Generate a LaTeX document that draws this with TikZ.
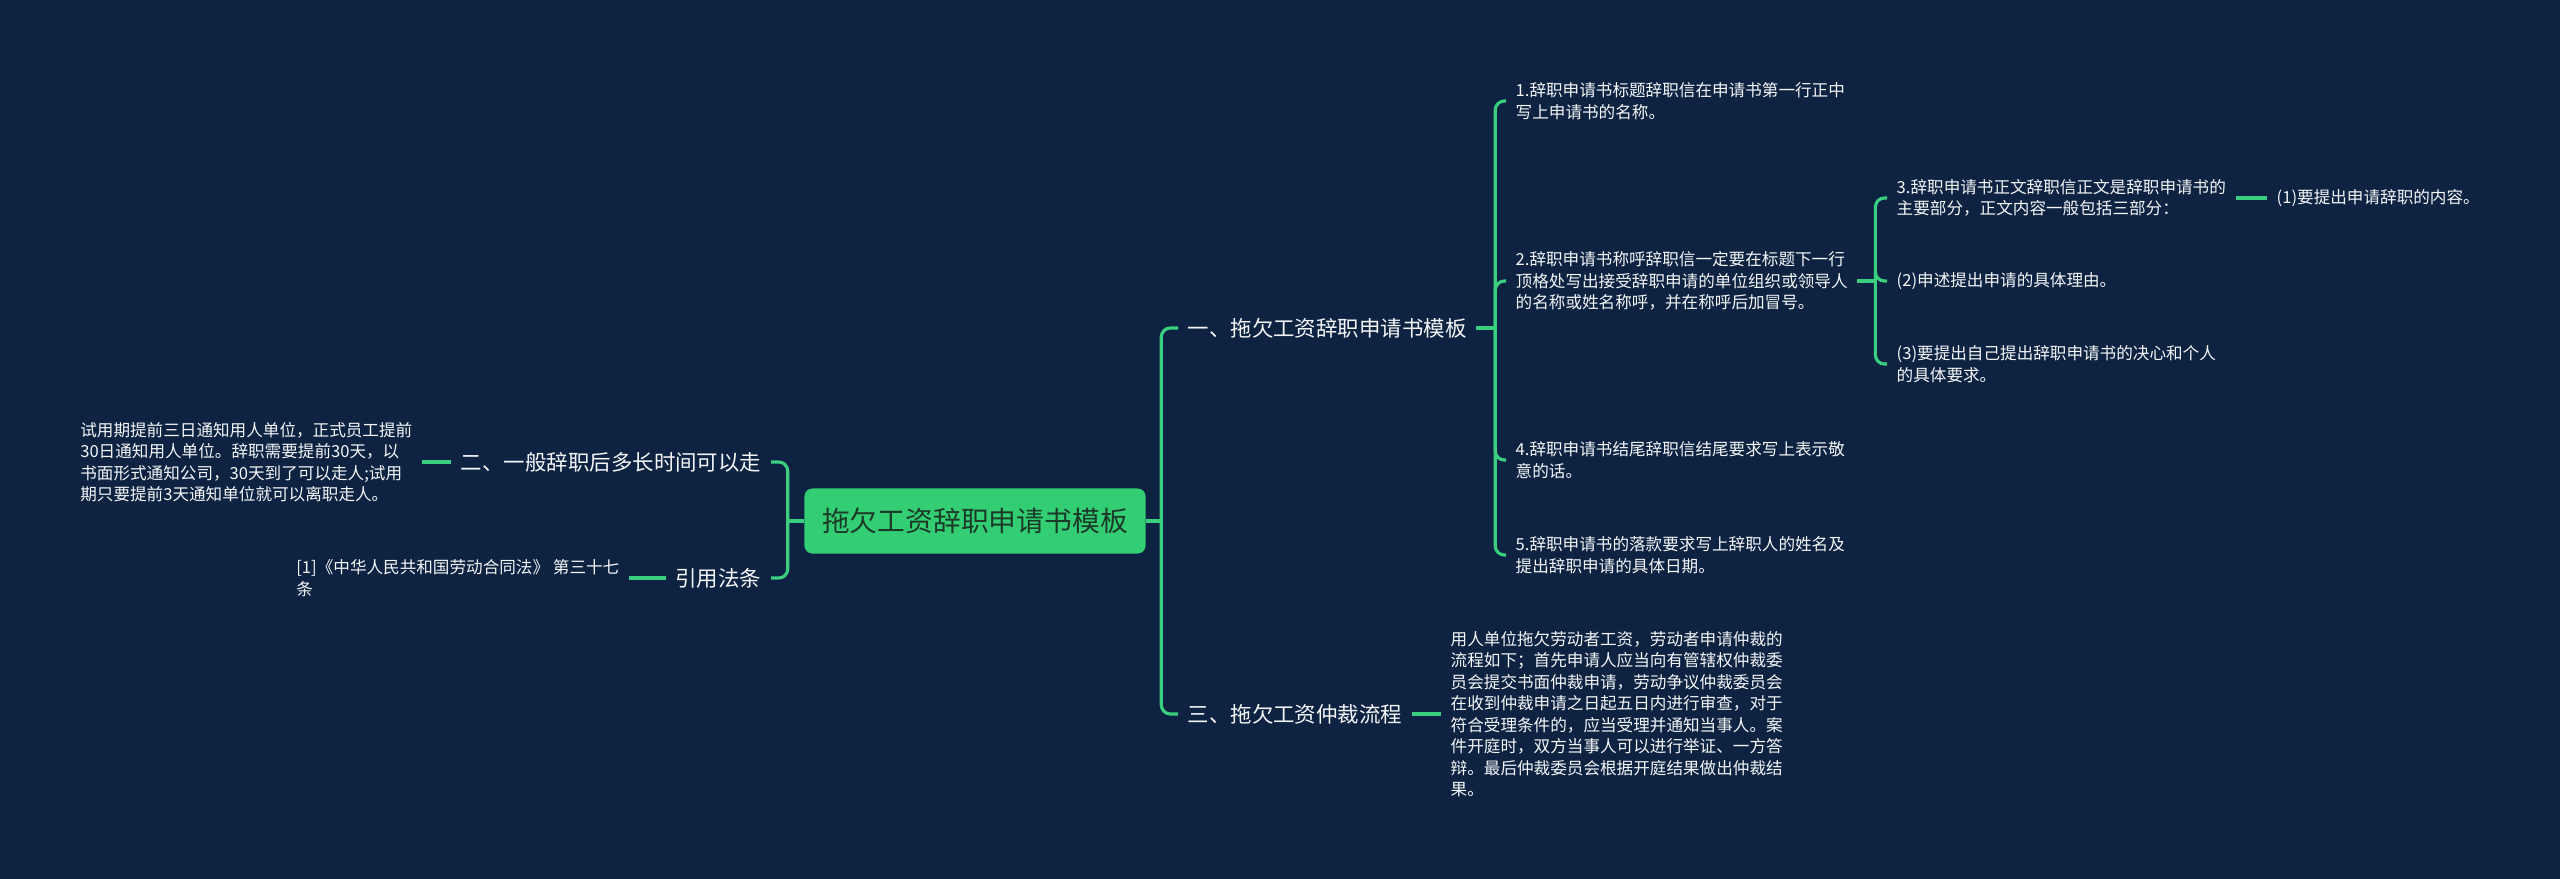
\documentclass[tikz,border=0pt]{standalone}
\usepackage{fontspec}
\usepackage{xcolor}
\usepackage{tikz}
\usetikzlibrary{positioning}
\newfontfamily\cjk{Noto Sans CJK SC}
\definecolor{pagebg}{HTML}{0E2341}
\definecolor{mapgreen}{HTML}{3ACF7E}
\definecolor{rootfill}{HTML}{33CE74}
\definecolor{roottext}{HTML}{1B3A28}
\definecolor{textmain}{HTML}{F4F6F8}
\tikzstyle{root} = [fill=rootfill, rounded corners=0.08cm, minimum width=3.41cm, minimum height=0.65cm, text=roottext, font=\cjk\fontsize{7.9pt}{9.5pt}\selectfont]
\tikzstyle{topic} = [inner xsep=0.09cm, inner ysep=0.03cm, text=textmain, font=\cjk\fontsize{6.1pt}{7.5pt}\selectfont]
\tikzstyle{leaf} = [inner xsep=0.09cm, inner ysep=0.03cm, align=left, text=textmain, font=\cjk\fontsize{4.72pt}{6.12pt}\selectfont]
\tikzstyle{link} = [line width=0.9pt, color=mapgreen, rounded corners=0.09cm]

\begin{document}
\begin{tikzpicture}[x=0.01cm, y=-0.01cm]
    \fill[pagebg] (0,0) rectangle (2560,879);
    \useasboundingbox (0,0) rectangle (2560,879);

    \node[root] (main) at (975,521) {拖欠工资辞职申请书模板};

    % left side
    \node[topic, anchor=east] (quit) at (771,462) {二、一般辞职后多长时间可以走};
    \node[leaf, anchor=east] (quitnote) at (422,462) {试用期提前三日通知用人单位，正式员工提前\\30日通知用人单位。辞职需要提前30天，以\\书面形式通知公司，30天到了可以走人;试用\\期只要提前3天通知单位就可以离职走人。};
    \node[topic, anchor=east] (law) at (771,578) {引用法条};
    \node[leaf, anchor=east] (lawnote) at (629,578) {[1]《中华人民共和国劳动合同法》 第三十七\\条};

    % right side
    \node[topic, anchor=west] (tmpl) at (1178,328) {一、拖欠工资辞职申请书模板};
    \node[leaf, anchor=west] (title) at (1506,101) {1.辞职申请书标题辞职信在申请书第一行正中\\写上申请书的名称。};
    \node[leaf, anchor=west] (greet) at (1506,281) {2.辞职申请书称呼辞职信一定要在标题下一行\\顶格处写出接受辞职申请的单位组织或领导人\\的名称或姓名称呼，并在称呼后加冒号。};
    \node[leaf, anchor=west] (ending) at (1506,460) {4.辞职申请书结尾辞职信结尾要求写上表示敬\\意的话。};
    \node[leaf, anchor=west] (sign) at (1506,555) {5.辞职申请书的落款要求写上辞职人的姓名及\\提出辞职申请的具体日期。};
    \node[leaf, anchor=west] (body) at (1887,198) {3.辞职申请书正文辞职信正文是辞职申请书的\\主要部分，正文内容一般包括三部分：};
    \node[leaf, anchor=west] (reason) at (1887,281) {(2)申述提出申请的具体理由。};
    \node[leaf, anchor=west] (resolve) at (1887,364) {(3)要提出自己提出辞职申请书的决心和个人\\的具体要求。};
    \node[leaf, anchor=west] (content) at (2267,198) {(1)要提出申请辞职的内容。};
    \node[topic, anchor=west] (arbit) at (1178,714) {三、拖欠工资仲裁流程};
    \node[leaf, anchor=west] (arbitnote) at (1441,714) {用人单位拖欠劳动者工资，劳动者申请仲裁的\\流程如下；首先申请人应当向有管辖权仲裁委\\员会提交书面仲裁申请，劳动争议仲裁委员会\\在收到仲裁申请之日起五日内进行审查，对于\\符合受理条件的，应当受理并通知当事人。案\\件开庭时，双方当事人可以进行举证、一方答\\辩。最后仲裁委员会根据开庭结果做出仲裁结\\果。};

    % connectors
    \draw[link] (main.west) -- ++(-16,0) coordinate (lj);
    \draw[link] (lj) |- (quit.east);
    \draw[link] (lj) |- (law.east);
    \draw[link] (quit.west) -- (quitnote.east);
    \draw[link] (law.west) -- (lawnote.east);

    \draw[link] (main.east) -- ++(15,0) coordinate (rj);
    \draw[link] (rj) |- (tmpl.west);
    \draw[link] (rj) |- (arbit.west);

    \draw[link] (tmpl.east) -- ++(19,0) coordinate (tj);
    \foreach \kid in {title, greet, ending, sign}
        \draw[link] (tj) |- (\kid.west);

    \draw[link] (greet.east) -- ++(18,0) coordinate (gj);
    \foreach \kid in {body, reason, resolve}
        \draw[link] (gj) |- (\kid.west);

    \draw[link] (body.east) -- (content.west);
    \draw[link] (arbit.east) -- (arbitnote.west);
\end{tikzpicture}
\end{document}
